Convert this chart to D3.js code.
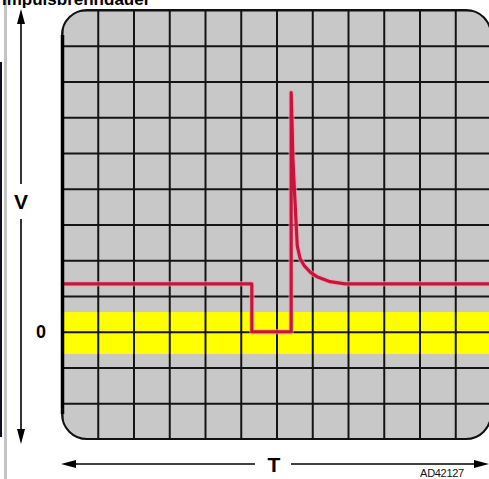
<!DOCTYPE html>
<html>
<head>
<meta charset="utf-8">
<script src="https://cdn.jsdelivr.net/npm/d3@7"></script>
<style>
  html, body { margin: 0; padding: 0; background: #fff; }
  svg { display: block; }
</style>
</head>
<body>
<svg id="chart" width="489" height="479"></svg>
<script>
// ---- data (screen divisions) ----
const gridX = [0,1,2,3,4,5,6,7,8,9,10,11,12];
const gridY = [-3,-2,-1,0,1,2,3,4,5,6,7,8,9];
const traceT = [0, 5.31, 5.31, 6.41, 6.41, 6.43, 6.46, 6.52, 6.58, 6.66, 6.78, 6.95, 7.13, 7.50, 7.92, 12];
const traceV = [1.34, 1.34, 0, 0, 6.69, 6.0, 4.8, 3.6, 2.4, 2.05, 1.84, 1.66, 1.54, 1.40, 1.34, 1.34];
const zeroBand = [-0.62, 0.55];
const yTickValues = [0];
const yTickLabels = ["0"];
const titleText = "Impulsbrenndauer";
const xAxisLabel = "T";
const yAxisLabel = "V";
const codeText = "AD42127";

const svg = d3.select("#chart");
const W = 489, H = 479;

const x = d3.scaleLinear().domain([0, 12]).range([62, 491]);
const y = d3.scaleLinear().domain([-3, 9]).range([439, 10]);

// left frame decoration
svg.append("rect").attr("x", 4).attr("y", 0).attr("width", 3).attr("height", H).attr("fill", "#c4c4c4");
svg.append("line").attr("x1", 1).attr("x2", 1).attr("y1", 62).attr("y2", 437)
  .attr("stroke", "#101020").attr("stroke-width", 2);

// title (cut off at top, as in the reference)
svg.append("text").attr("x", 2).attr("y", 5)
  .attr("font-family", "Liberation Sans, Arial, sans-serif").attr("font-weight", "bold")
  .attr("font-size", 17).attr("fill", "#000").text(titleText);

const sx0 = x(0), sx1 = x(12), sy0 = y(9), sy1 = y(-3);
const r = 25;

const defs = svg.append("defs");
defs.append("clipPath").attr("id", "screen")
  .append("rect").attr("x", sx0).attr("y", sy0).attr("width", sx1 - sx0).attr("height", sy1 - sy0)
  .attr("rx", r).attr("ry", r);

const scr = svg.append("g").attr("clip-path", "url(#screen)");
scr.append("rect").attr("x", sx0).attr("y", sy0).attr("width", sx1 - sx0).attr("height", sy1 - sy0)
  .attr("fill", "#c8c8c8");

// yellow zero band
scr.append("rect").attr("x", sx0).attr("width", sx1 - sx0)
  .attr("y", y(zeroBand[1])).attr("height", y(zeroBand[0]) - y(zeroBand[1]))
  .attr("fill", "#ffff00");

// grid through axes
const gx = scr.append("g").attr("transform", `translate(0,${sy1})`)
  .call(d3.axisBottom(x).tickValues(gridX).tickSize(-(sy1 - sy0)).tickFormat(""));
const gy = scr.append("g").attr("transform", `translate(${sx0},0)`)
  .call(d3.axisLeft(y).tickValues(gridY).tickSize(-(sx1 - sx0)).tickFormat(""));
[gx, gy].forEach(g => {
  g.select(".domain").remove();
  g.selectAll(".tick line").attr("stroke", "#141414").attr("stroke-width", 2);
});

// trace
const pts = traceT.map((t, i) => [t, traceV[i]]);
const line = d3.line().x(d => x(d[0])).y(d => y(d[1])).curve(d3.curveLinear);
scr.append("path").datum(pts).attr("d", line).attr("fill", "none")
  .attr("stroke", "#f0a0b0").attr("stroke-width", 5.5).attr("stroke-linejoin", "round").attr("opacity", 0.6);
scr.append("path").datum(pts).attr("d", line).attr("fill", "none")
  .attr("stroke", "#c8143c").attr("stroke-width", 3.2).attr("stroke-linejoin", "round");

// border
svg.append("rect").attr("x", sx0).attr("y", sy0).attr("width", sx1 - sx0).attr("height", sy1 - sy0)
  .attr("rx", r).attr("ry", r).attr("fill", "none").attr("stroke", "#111").attr("stroke-width", 2);
svg.append("line").attr("x1", sx0 + 0.5).attr("x2", sx0 + 0.5).attr("y1", sy0 + r).attr("y2", sy1 - r)
  .attr("stroke", "#000").attr("stroke-width", 3.5);

// y tick label "0"
const yLabG = svg.append("g");
yTickValues.forEach((v, i) => {
  yLabG.append("text").attr("x", 41).attr("y", y(v)).attr("dy", "0.36em")
    .attr("text-anchor", "middle").attr("font-family", "Liberation Sans, Arial, sans-serif")
    .attr("font-weight", "bold").attr("font-size", 18).text(yTickLabels[i]);
});

// V arrow
const ax = 21;
const vMid = 201;
svg.append("line").attr("x1", ax).attr("x2", ax).attr("y1", 16).attr("y2", vMid - 17).attr("stroke", "#000").attr("stroke-width", 1.6);
svg.append("line").attr("x1", ax).attr("x2", ax).attr("y1", vMid + 18).attr("y2", 438).attr("stroke", "#000").attr("stroke-width", 1.6);
svg.append("path").attr("d", `M${ax},9 L${ax - 4},24 L${ax + 4},24 Z`).attr("fill", "#000");
svg.append("path").attr("d", `M${ax},444 L${ax - 4},429 L${ax + 4},429 Z`).attr("fill", "#000");
svg.append("text").attr("x", ax).attr("y", vMid).attr("dy", "0.36em").attr("text-anchor", "middle")
  .attr("font-family", "Liberation Sans, Arial, sans-serif").attr("font-weight", "bold").attr("font-size", 21).text(yAxisLabel);

// T arrow
const ay = 464, tMid = 274;
svg.append("line").attr("x1", 68).attr("x2", tMid - 19).attr("y1", ay).attr("y2", ay).attr("stroke", "#000").attr("stroke-width", 1.6);
svg.append("line").attr("x1", tMid + 17).attr("x2", 482).attr("y1", ay).attr("y2", ay).attr("stroke", "#000").attr("stroke-width", 1.6);
svg.append("path").attr("d", `M61,${ay} L76,${ay - 4} L76,${ay + 4} Z`).attr("fill", "#000");
svg.append("path").attr("d", `M489,${ay} L474,${ay - 4} L474,${ay + 4} Z`).attr("fill", "#000");
svg.append("text").attr("x", tMid).attr("y", ay).attr("dy", "0.36em").attr("text-anchor", "middle")
  .attr("font-family", "Liberation Sans, Arial, sans-serif").attr("font-weight", "bold").attr("font-size", 21).text(xAxisLabel);

// code
svg.append("text").attr("x", 442).attr("y", 477).attr("text-anchor", "middle")
  .attr("font-family", "Liberation Sans, Arial, sans-serif").attr("font-size", 11).attr("fill", "#111")
  .attr("letter-spacing", "-0.3")
  .text(codeText);
</script>
</body>
</html>
